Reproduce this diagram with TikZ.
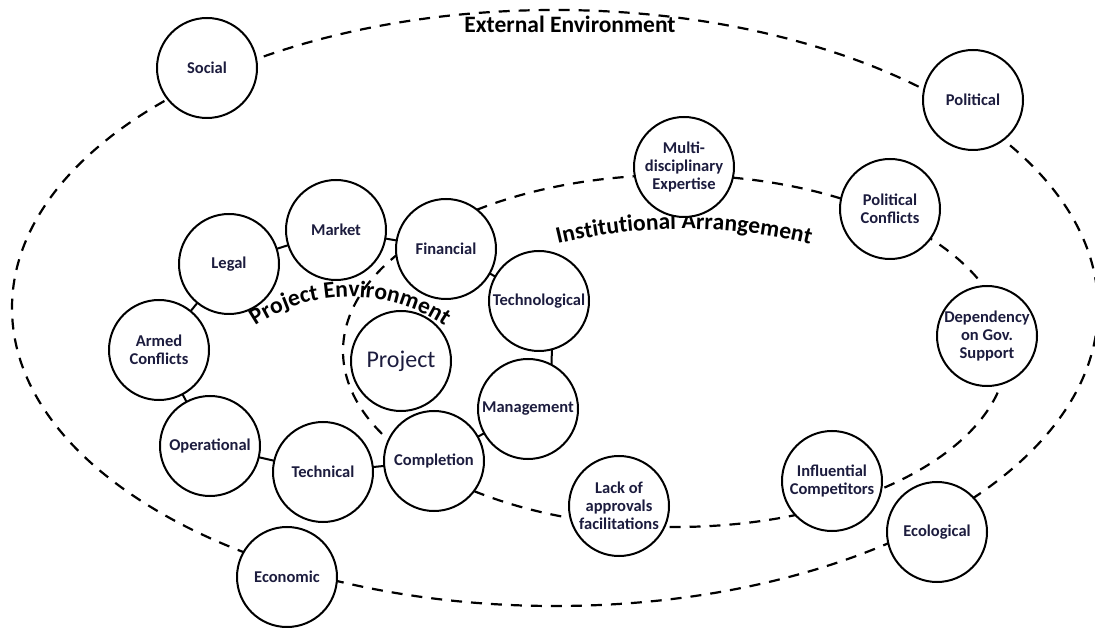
\documentclass[tikz,border=0pt]{standalone}
\usepackage{fontspec}
\setmainfont{Carlito}
\usetikzlibrary{shapes.geometric,decorations.text}
\definecolor{labelnavy}{RGB}{28,28,62}
\begin{document}
\begin{tikzpicture}[x=1pt,y=1pt,
  factor/.style={circle, draw=black, line width=2pt, fill=white, minimum size=100pt, inner sep=0pt, outer sep=0pt, align=center, text=labelnavy, font=\bfseries\fontsize{16.5}{18}\selectfont},
  envline/.style={ellipse, draw=black, line width=2.2pt, dash pattern=on 11pt off 9pt, inner sep=0pt, outer sep=0pt},
  link/.style={line width=2pt},
  envlabel/.style={font=\bfseries\fontsize{23.5}{26}\selectfont, text=black}]
\useasboundingbox (0,0) rectangle (1095,627);

% environment boundaries
\node[envline, minimum width=1086pt, minimum height=596pt] (extenv) at (555,319) {};
\node[envline, minimum width=664pt, minimum height=352pt] (instenv) at (675,276) {};

% labels of the environments
\node[envlabel, anchor=base] (extlabel) at (570,594) {External Environment};
\path[decorate, decoration={text along path, text align=center,
  text={|\bfseries\fontsize{23.5}{26}\selectfont|Institutional Arrangement}}]
  ([shift={(108:540)}]684,-142) arc[start angle=108, end angle=72, radius=540];
\path[decorate, decoration={text along path, text align=center,
  text={|\bfseries\fontsize{23.5}{26}\selectfont|Project Environment}}]
  ([shift={(135:170)}]350,160) arc[start angle=135, end angle=45, radius=170];

% outer factors
\node[factor] (social) at (207,559) {Social};
\node[factor] (political) at (973,527) {Political};
\node[factor] (ecological) at (937,95) {Ecological};
\node[factor] (economic) at (287,50) {Economic};

% institutional factors
\node[factor] (multi) at (684,460) {Multi-\\disciplinary\\Expertise};
\node[factor] (polconf) at (890,418) {Political\\Conflicts};
\node[factor] (depend) at (987,291) {Dependency\\on Gov.\\Support};
\node[factor] (influential) at (832,146) {Influential\\Competitors};
\node[factor] (lack) at (619,121) {Lack of\\approvals\\facilitations};

% project ring
\node[factor] (legal) at (229,363) {Legal};
\node[factor] (market) at (336,397) {Market};
\node[factor] (financial) at (446,378) {Financial};
\node[factor] (technological) at (539,326) {Technological};
\node[factor] (management) at (528,218) {Management};
\node[factor] (completion) at (434,166) {Completion};
\node[factor] (technical) at (323,155) {Technical};
\node[factor] (operational) at (210,181) {Operational};
\node[factor] (armed) at (159,277) {Armed\\Conflicts};
\node[factor, font=\fontsize{24}{26}\selectfont] (project) at (401,266) {Project};

% solid links
\draw[link] (legal) -- (market);
\draw[link] (market) -- (financial);
\draw[link] (financial) -- (technological);
\draw[link] (technological.-75) -- (management.62);
\draw[link] (management) -- (completion);
\draw[link] (completion) -- (technical);
\draw[link] (technical) -- (operational);
\draw[link] (operational) -- (armed);
\draw[link] (armed) -- (legal);
\end{tikzpicture}
\end{document}
